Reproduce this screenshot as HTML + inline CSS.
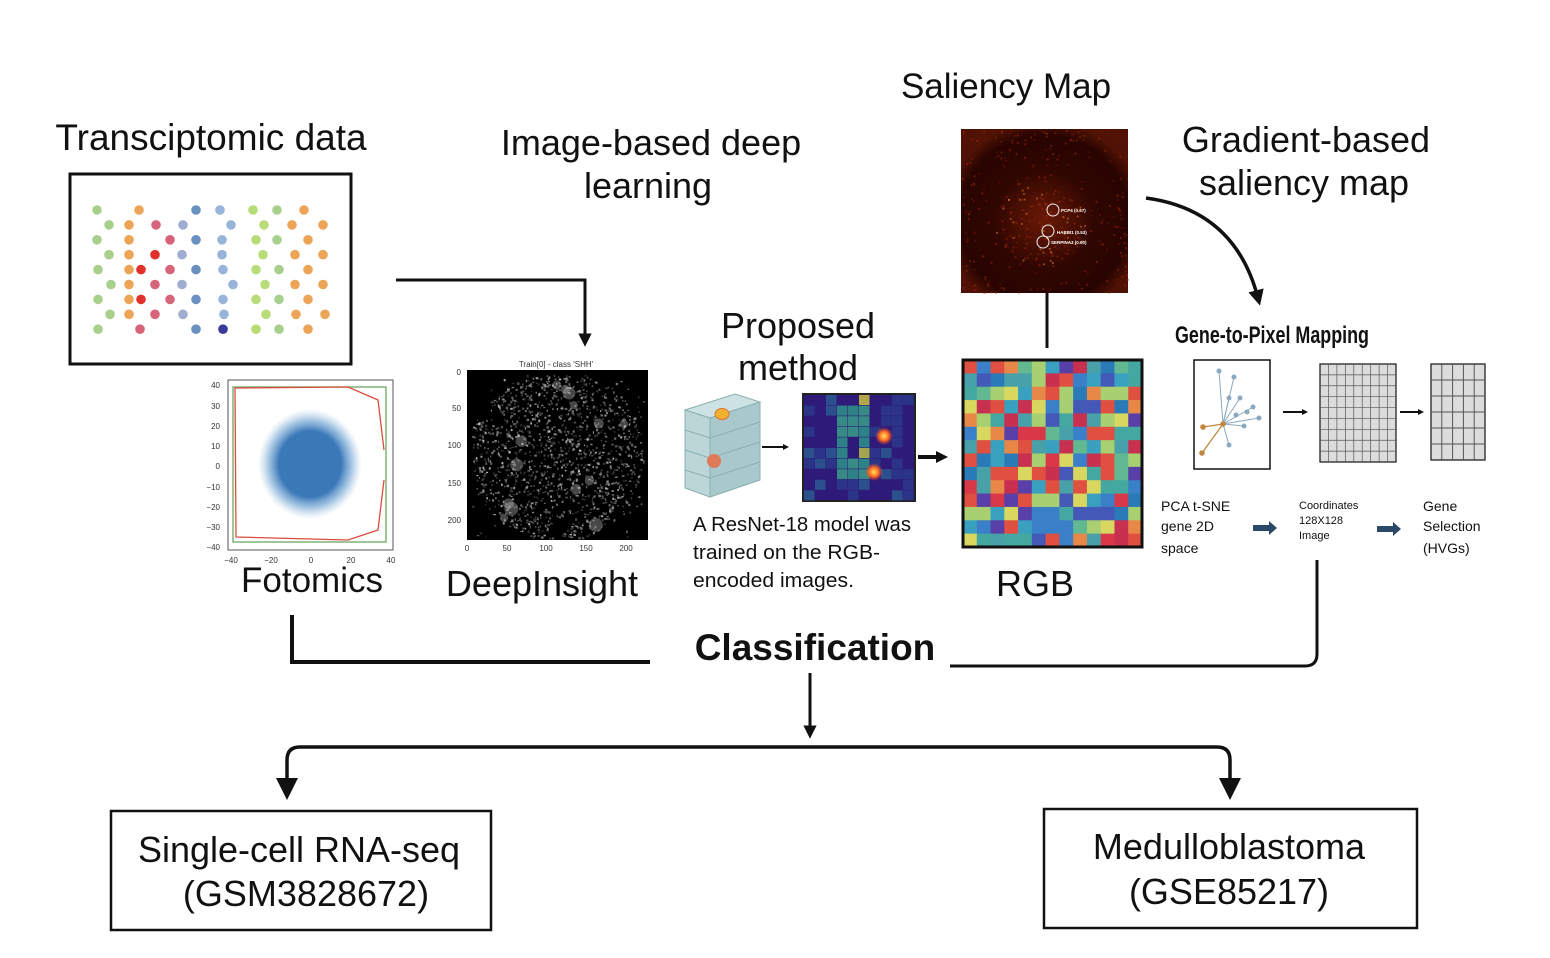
<!DOCTYPE html>
<html><head><meta charset="utf-8">
<style>
html,body{margin:0;padding:0;background:#fff;}
svg{display:block;font-family:"Liberation Sans",sans-serif;}
</style></head>
<body>
<svg id="s" width="1550" height="958" viewBox="0 0 1550 958" xmlns="http://www.w3.org/2000/svg">
<defs>
<marker id="ah" viewBox="0 0 10 10" refX="5" refY="5" markerWidth="4.5" markerHeight="4.5" orient="auto"><path d="M0,0 L10,5 L0,10 z" fill="#111"/></marker>
<marker id="ah2" viewBox="0 0 10 10" refX="5" refY="5" markerWidth="3" markerHeight="3" orient="auto"><path d="M0,0 L10,5 L0,10 z" fill="#111"/></marker>
<radialGradient id="sal" cx="50%" cy="55%" r="60%"><stop offset="0" stop-color="#6a1a06"/><stop offset="0.5" stop-color="#300601"/><stop offset="0.85" stop-color="#280401"/><stop offset="1" stop-color="#501204"/></radialGradient>
<radialGradient id="dot" r="50%"><stop offset="0" stop-color="#ffe060"/><stop offset="0.5" stop-color="#ff7020"/><stop offset="1" stop-color="#ff4020" stop-opacity="0"/></radialGradient>
<radialGradient id="blob" r="50%"><stop offset="0" stop-color="#3a78b8"/><stop offset="0.6" stop-color="#3a78b8"/><stop offset="0.8" stop-color="#6a9fd0" stop-opacity="0.6"/><stop offset="1" stop-color="#a0c0e0" stop-opacity="0"/></radialGradient>
</defs>

<!-- Titles -->
<text x="211" y="150" font-size="37" text-anchor="middle" fill="#111">Transciptomic data</text>
<text x="651" y="155" font-size="36" text-anchor="middle" fill="#111">Image-based deep</text>
<text x="648" y="198" font-size="36" text-anchor="middle" fill="#111">learning</text>
<text x="1006" y="98" font-size="35" text-anchor="middle" fill="#111">Saliency Map</text>
<text x="1306" y="152" font-size="36" text-anchor="middle" fill="#111">Gradient-based</text>
<text x="1304" y="195" font-size="36" text-anchor="middle" fill="#111">saliency map</text>
<text x="798" y="338" font-size="36" text-anchor="middle" fill="#111">Proposed</text>
<text x="798" y="380" font-size="36" text-anchor="middle" fill="#111">method</text>

<!-- transcriptomic box -->
<rect x="70" y="174" width="281" height="190" fill="#fff" stroke="#111" stroke-width="3"/>
<g id="dots"></g>

<!-- arrow to deepinsight -->
<path d="M396,280 L585,280 L585,340" fill="none" stroke="#111" stroke-width="3" marker-end="url(#ah)"/>

<!-- Fotomics plot -->
<g font-size="8" fill="#333">
<rect x="228" y="380" width="165" height="170" fill="#fff" stroke="#555" stroke-width="1"/>
<g id="fs"></g>
<ellipse cx="310" cy="464" rx="52" ry="55" fill="url(#blob)"/>
<rect x="233" y="387" width="153" height="155" fill="none" stroke="#6aa860" stroke-width="1.3"/>
<path d="M235,388 L348,387 L378,400 L384,450 M384,480 L378,530 L348,540 L236,537 L235,388" fill="none" stroke="#d94d3c" stroke-width="1.3"/>
<text x="220" y="388" text-anchor="end">40</text><text x="220" y="409" text-anchor="end">30</text><text x="220" y="429" text-anchor="end">20</text><text x="220" y="449" text-anchor="end">10</text><text x="220" y="469" text-anchor="end">0</text><text x="220" y="490" text-anchor="end">−10</text><text x="220" y="510" text-anchor="end">−20</text><text x="220" y="530" text-anchor="end">−30</text><text x="220" y="550" text-anchor="end">−40</text>
<text x="231" y="563" text-anchor="middle">−40</text><text x="271" y="563" text-anchor="middle">−20</text><text x="311" y="563" text-anchor="middle">0</text><text x="351" y="563" text-anchor="middle">20</text><text x="391" y="563" text-anchor="middle">40</text>
</g>
<text x="312" y="592" font-size="35" text-anchor="middle" fill="#111">Fotomics</text>

<!-- DeepInsight -->
<g font-size="8" fill="#333">
<text x="556" y="367" text-anchor="middle">Train[0] - class 'SHH'</text>
<rect x="467" y="370" width="181" height="170" fill="#000"/>
<g id="di"></g>
<text x="461" y="375" text-anchor="end">0</text><text x="461" y="411" text-anchor="end">50</text><text x="461" y="448" text-anchor="end">100</text><text x="461" y="486" text-anchor="end">150</text><text x="461" y="523" text-anchor="end">200</text>
<text x="467" y="551" text-anchor="middle">0</text><text x="507" y="551" text-anchor="middle">50</text><text x="546" y="551" text-anchor="middle">100</text><text x="586" y="551" text-anchor="middle">150</text><text x="626" y="551" text-anchor="middle">200</text>
</g>
<text x="542" y="596" font-size="36" text-anchor="middle" fill="#111">DeepInsight</text>

<!-- cube -->
<g stroke="#8ab0b0" stroke-width="1">
<path d="M685,410 L735,394 L760,402 L710,418 z" fill="#cde2e3"/>
<path d="M685,410 L710,418 L710,497 L685,488 z" fill="#bcd6d8"/>
<path d="M710,418 L760,402 L760,480 L710,497 z" fill="#a8c8cb"/>
<path d="M685,430 L710,438 L760,422 M685,450 L710,458 L760,442 M685,470 L710,478 L760,462" fill="none"/>
</g>
<ellipse cx="722" cy="414" rx="7" ry="5.5" fill="#f0b030" stroke="#e07030"/>
<circle cx="714" cy="461" r="7" fill="#e0785a"/>
<line x1="762" y1="447" x2="786" y2="447" stroke="#111" stroke-width="2" marker-end="url(#ah2)"/>
<!-- heatmap -->
<rect x="803" y="394" width="112" height="107" fill="#2e1a78" stroke="#222" stroke-width="2"/>
<g id="hm"></g>
<circle cx="884" cy="436" r="9" fill="url(#dot)"/>
<circle cx="874" cy="472" r="9" fill="url(#dot)"/>
<line x1="918" y1="457" x2="942" y2="457" stroke="#111" stroke-width="4" marker-end="url(#ah2)"/>
<g font-size="20" fill="#111" font-family="Liberation Sans Narrow, Liberation Sans, sans-serif">
<text x="693" y="531" textLength="218" lengthAdjust="spacingAndGlyphs">A ResNet-18 model was</text>
<text x="693" y="559" textLength="187" lengthAdjust="spacingAndGlyphs">trained on the RGB-</text>
<text x="693" y="587" textLength="161" lengthAdjust="spacingAndGlyphs">encoded images.</text>
</g>

<!-- saliency -->
<rect x="961" y="129" width="167" height="164" fill="url(#sal)"/>
<g id="salg"></g>
<g fill="none" stroke="#eee" stroke-width="1"><circle cx="1053" cy="210" r="6"/><circle cx="1048" cy="231" r="6"/><circle cx="1043" cy="242" r="6"/></g>
<g font-size="4.5" fill="#fff" font-weight="bold"><text x="1061" y="212">PCP4 (0.47)</text><text x="1057" y="234">HABBI1 (0.53)</text><text x="1051" y="244">SERPINA3 (0.60)</text></g>
<line x1="1047" y1="293" x2="1047" y2="348" stroke="#111" stroke-width="3"/>
<path d="M1146,198 Q1235,210 1258,298" fill="none" stroke="#111" stroke-width="3.5" marker-end="url(#ah)"/>

<!-- RGB -->
<g id="rgb"></g>
<rect x="963" y="360" width="179" height="187" fill="none" stroke="#111" stroke-width="3"/>
<text x="1035" y="596" font-size="36" text-anchor="middle" fill="#111">RGB</text>

<!-- Gene to pixel -->
<text x="1175" y="343" font-size="24" font-weight="bold" fill="#111" font-family="Liberation Sans Narrow, Liberation Sans, sans-serif" textLength="194" lengthAdjust="spacingAndGlyphs">Gene-to-Pixel Mapping</text>
<rect x="1194" y="360" width="76" height="109" fill="#fff" stroke="#111" stroke-width="1.5"/>
<g stroke="#8aa8c0" stroke-width="1"><line x1="1223" y1="424" x2="1219" y2="371"/><line x1="1223" y1="424" x2="1234" y2="377"/><line x1="1223" y1="424" x2="1229" y2="398"/><line x1="1223" y1="424" x2="1240" y2="398"/><line x1="1223" y1="424" x2="1253" y2="407"/><line x1="1223" y1="424" x2="1259" y2="418"/><line x1="1223" y1="424" x2="1244" y2="426"/><line x1="1223" y1="424" x2="1229" y2="445"/></g>
<g fill="#8aa8c0"><circle cx="1219" cy="371" r="2.5"/><circle cx="1234" cy="377" r="2.5"/><circle cx="1229" cy="398" r="2.5"/><circle cx="1240" cy="398" r="2.5"/><circle cx="1253" cy="407" r="2.5"/><circle cx="1259" cy="418" r="2.5"/><circle cx="1244" cy="426" r="2.5"/><circle cx="1229" cy="445" r="2.5"/><circle cx="1236" cy="415" r="2.5"/><circle cx="1247" cy="412" r="2.5"/></g>
<g stroke="#c08840" stroke-width="1.3"><line x1="1223" y1="424" x2="1203" y2="427"/><line x1="1223" y1="424" x2="1202" y2="453"/></g>
<g fill="#c08840"><circle cx="1223" cy="424" r="2.8"/><circle cx="1203" cy="427" r="2.8"/><circle cx="1202" cy="453" r="2.8"/></g>
<line x1="1283" y1="412" x2="1305" y2="412" stroke="#111" stroke-width="2" marker-end="url(#ah2)"/>
<line x1="1400" y1="412" x2="1421" y2="412" stroke="#111" stroke-width="2" marker-end="url(#ah2)"/>
<g id="g1"></g><g id="g2"></g>
<g font-size="14" fill="#111"><text x="1161" y="511">PCA t-SNE</text><text x="1161" y="531">gene 2D</text><text x="1161" y="553">space</text>
<text x="1423" y="511">Gene</text><text x="1423" y="531">Selection</text><text x="1423" y="553">(HVGs)</text></g>
<g font-size="11" fill="#111"><text x="1299" y="509">Coordinates</text><text x="1299" y="524">128X128</text><text x="1299" y="539">Image</text></g>
<g fill="#2a4a68"><path d="M1253,525 h16 v-4 l8,7 l-8,7 v-4 h-16 z"/><path d="M1377,526 h16 v-4 l8,7 l-8,7 v-4 h-16 z"/></g>

<!-- Classification -->
<text x="815" y="660" font-size="37" font-weight="bold" text-anchor="middle" fill="#111">Classification</text>
<path d="M292,615 L292,662 L650,662" fill="none" stroke="#111" stroke-width="4"/>
<path d="M950,666 L1305,666 Q1317,666 1317,654 L1317,560" fill="none" stroke="#111" stroke-width="3"/>
<line x1="810" y1="673" x2="810" y2="732" stroke="#111" stroke-width="3" marker-end="url(#ah)"/>
<path d="M287,792 L287,760 Q287,747 300,747 L1217,747 Q1230,747 1230,760 L1230,792" fill="none" stroke="#111" stroke-width="3.5"/>
<path d="M276,778 L287,800 L298,778 z" fill="#111"/>
<path d="M1219,778 L1230,800 L1241,778 z" fill="#111"/>

<rect x="111" y="811" width="380" height="119" fill="#fff" stroke="#111" stroke-width="2.5"/>
<text x="299" y="862" font-size="36" text-anchor="middle" fill="#111">Single-cell RNA-seq</text>
<text x="306" y="906" font-size="36" text-anchor="middle" fill="#111">(GSM3828672)</text>
<rect x="1044" y="809" width="373" height="119" fill="#fff" stroke="#111" stroke-width="2.5"/>
<text x="1229" y="859" font-size="36" text-anchor="middle" fill="#111">Medulloblastoma</text>
<text x="1229" y="904" font-size="36" text-anchor="middle" fill="#111">(GSE85217)</text>
</svg>
<script>
var NS="http://www.w3.org/2000/svg";
function el(p,t,a){var e=document.createElementNS(NS,t);for(var k in a)e.setAttribute(k,a[k]);document.getElementById(p).appendChild(e);return e;}
var seed=7;function r(){seed=(seed*16807)%2147483647;return (seed-1)/2147483646;}
function gs(){return (r()+r()+r()+r()-2)/1.15;}
// dots
var G='#a8d08c',O='#eca456',P='#d8647c',R='#e0302a',B='#a0acd0',BB='#6a90c0',LB='#98b4d8',LG='#b8dc78';
var rows=[[[97,G],[139,O],[196,BB],[220,LB],[253,LG],[277,G],[304,O]],
[[109,G],[129,O],[156,P],[183,B],[231,LB],[264,LG],[292,O],[323,O]],
[[97,G],[129,O],[170,P],[196,BB],[222,LB],[256,LG],[277,G],[308,O]],
[[109,G],[129,O],[155,R],[182,B],[222,LB],[263,LG],[295,O],[323,O]],
[[98,G],[129,O],[141,R],[170,P],[196,BB],[223,LB],[256,LG],[279,G],[308,O]],
[[111,G],[129,O],[155,P],[182,B],[233,LB],[265,LG],[295,O],[323,O]],
[[98,G],[129,O],[141,R],[170,P],[196,BB],[223,LB],[256,LG],[279,G],[308,O]],
[[110,G],[129,O],[155,P],[183,B],[224,LB],[266,LG],[296,O],[325,O]],
[[98,G],[140,P],[196,BB],[223,'#3a3a98'],[256,LG],[279,G],[308,O]]];
for(var i=0;i<rows.length;i++)rows[i].forEach(function(d){el('dots','circle',{cx:d[0],cy:210+i*14.9,r:4.8,fill:d[1]});});
// fotomics scatter
for(var i=0;i<500;i++){el('fs','rect',{x:310+gs()*26,y:464+gs()*27,width:1,height:1,fill:'#5a90c8',opacity:0.6});}
// deepinsight speckle
var cl=[[556,455,90,85,1]];
for(var i=0;i<1800;i++){var x=472+r()*172,y=375+r()*163;var dx=(x-556)/88,dy=(y-455)/86;if(dx*dx+dy*dy>1.0&&r()<0.9)continue;if(x<490&&y<420&&r()<0.8)continue;var g=Math.floor(90+r()*150);el('di','rect',{x:x,y:y,width:1+r()*1.6,height:1+r()*1.6,fill:'rgb('+g+','+g+','+g+')',opacity:0.3+r()*0.5});}
for(var i=0;i<14;i++){el('di','circle',{cx:490+r()*140,cy:385+r()*140,r:3+r()*4,fill:'#ccc',opacity:0.35});}
// heatmap cells
var hc=['#2a3a88','#2a5a90','#2a7a8e','#2e948a','#3a9f88','#7cbf6a','#c8c840'];
for(var a=0;a<10;a++)for(var b=0;b<10;b++){var v=r();var x=804+b*11,y=395+a*10.6;var c;
 if(b>=3&&b<=5&&a>=1&&a<=7&&!(a>=4&&a<=5&&b==4))c=hc[3+Math.floor(r()*2)];else if(v<0.3)c=hc[0];else if(v<0.45)c=hc[1];else c=null;
 if(a==0&&b==5)c='#c8c040';if(a==5&&b==5)c='#b8c048';
 if(c)el('hm','rect',{x:x,y:y,width:10.5,height:10,fill:c,opacity:0.85});}
// saliency texture
for(var i=0;i<1200;i++){var x=962+r()*165,y=130+r()*162;var dx=(x-1040)/45,dy=(y-225)/40;var near=dx*dx+dy*dy<1;var edge=(x<975||x>1115||y<142||y>280);
 var p=near?0.8:(edge?0.45:0.12);if(r()>p)continue;var cc=near&&r()<0.25?'#e08020':(r()<0.5?'#a02808':'#701804');el('salg','rect',{x:x,y:y,width:1.8,height:1.8,fill:cc,opacity:0.6});}
// RGB grid 13x14
var pal=['#d83848','#c83050','#4458b8','#3a80c8','#3aa0c0','#44a8a0','#62b890','#a8d070','#d8d860','#e88848','#e05040','#5840a8','#2a7ab8','#48a0a8'];
var W=179/13,H=187/14;
for(var a=0;a<14;a++)for(var b=0;b<13;b++){el('rgb','rect',{x:963+b*W,y:360+a*H,width:W+0.5,height:H+0.5,fill:pal[Math.floor(r()*pal.length)]});}
// grids
function grid(id,x0,y0,w,h,nx,ny,thin){el(id,'rect',{x:x0,y:y0,width:w,height:h,fill:'#dcdcdc',stroke:'#222','stroke-width':1.3});
 for(var i=1;i<nx;i++)el(id,'line',{x1:x0+i*w/nx,y1:y0,x2:x0+i*w/nx,y2:y0+h,stroke:'#555','stroke-width':thin});
 for(var j=1;j<ny;j++)el(id,'line',{x1:x0,y1:y0+j*h/ny,x2:x0+w,y2:y0+j*h/ny,stroke:'#555','stroke-width':thin});}
grid('g1',1320,364,76,98,9,9,0.7);
grid('g2',1431,364,54,96,5,6,1);
</script>
</body></html>
